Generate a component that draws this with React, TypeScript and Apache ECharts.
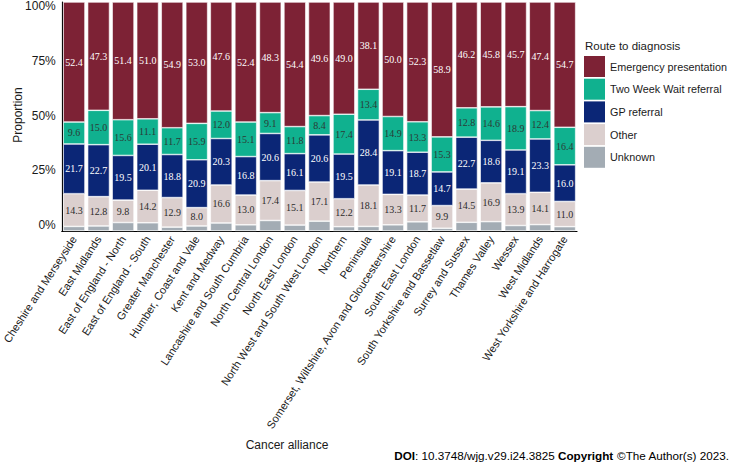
import React, { useEffect, useRef } from "react";
import * as echarts from "echarts";

const categories = [
  "Cheshire and Merseyside",
  "East Midlands",
  "East of England - North",
  "East of England - South",
  "Greater Manchester",
  "Humber, Coast and Vale",
  "Kent and Medway",
  "Lancashire and South Cumbria",
  "North Central London",
  "North East London",
  "North West and South West London",
  "Northern",
  "Peninsula",
  "Somerset, Wiltshire, Avon and Gloucestershire",
  "South East London",
  "South Yorkshire and Bassetlaw",
  "Surrey and Sussex",
  "Thames Valley",
  "Wessex",
  "West Midlands",
  "West Yorkshire and Harrogate",
];

const emergency = [52.4, 47.3, 51.4, 51.0, 54.9, 53.0, 47.6, 52.4, 48.3, 54.4, 49.6, 49.0, 38.1, 50.0, 52.3, 58.9, 46.2, 45.8, 45.7, 47.4, 54.7];
const twoWeekWait = [9.6, 15.0, 15.6, 11.1, 11.7, 15.9, 12.0, 15.1, 9.1, 11.8, 8.4, 17.4, 13.4, 14.9, 13.3, 15.3, 12.8, 14.6, 18.9, 12.4, 16.4];
const gpReferral = [21.7, 22.7, 19.5, 20.1, 18.8, 20.9, 20.3, 16.8, 20.6, 16.1, 20.6, 19.5, 28.4, 19.1, 18.7, 14.7, 22.7, 18.6, 19.1, 23.3, 16.0];
const other = [14.3, 12.8, 9.8, 14.2, 12.9, 8.0, 16.6, 13.0, 17.4, 15.1, 17.1, 12.2, 18.1, 13.3, 11.7, 9.9, 14.5, 16.9, 13.9, 14.1, 11.0];
const unknown = [2.0, 2.2, 3.7, 3.6, 1.7, 2.2, 3.5, 2.7, 4.6, 2.6, 4.3, 1.9, 2.0, 2.7, 4.0, 1.2, 3.8, 4.1, 2.4, 2.8, 1.9];

const yTicks = [0, 25, 50, 75, 100];

const SANS = "Liberation Sans";
const SERIF = "Liberation Serif";

export default function App() {
  const ref = useRef<HTMLDivElement>(null);
  useEffect(() => {
    document.body.style.margin = "0";
    const chart = echarts.init(ref.current!, null, { renderer: "svg" });
    const mk = (name: string, data: number[], color: string, labelColor: string | null) => ({
      name,
      type: "bar",
      stack: "total",
      data,
      barCategoryGap: "11%",
      itemStyle: { color, borderColor: "#ffffff", borderWidth: 0.6 },
      label: labelColor
        ? {
            show: true,
            position: "inside",
            color: labelColor,
            fontFamily: SERIF,
            fontSize: 10,
            formatter: (p: any) => Number(p.value).toFixed(1),
          }
        : { show: false },
      emphasis: { disabled: true },
    });
    chart.setOption({
      animation: false,
      grid: { left: 56, right: 154, top: 1, bottom: 235, containLabel: false },
      xAxis: {
        type: "category",
        data: categories,
        axisLine: { lineStyle: { color: "#000", width: 1.2 } },
        axisTick: { alignWithLabel: true, length: 4, lineStyle: { color: "#333" } },
        axisLabel: {
          rotate: 57,
          interval: 0,
          margin: 6,
          fontFamily: SANS,
          fontSize: 11,
          color: "#1a1a1a",
        },
      },
      yAxis: [
        {
          type: "value",
          min: 0,
          max: 100,
          interval: 25,
          axisLine: { show: true, lineStyle: { color: "#000", width: 1.2 } },
          axisTick: { show: false },
          axisLabel: { show: false },
          splitLine: { show: false },
        },
        {
          type: "value",
          position: "left",
          min: -2.727,
          max: 101.82,
          axisLine: { show: false },
          axisTick: { show: false },
          splitLine: { show: false },
          axisLabel: {
            customValues: yTicks,
            formatter: (v: number) => v + "%",
            fontFamily: SANS,
            fontSize: 12,
            color: "#1a1a1a",
            margin: 6,
          },
        },
      ],
      legend: {
        orient: "vertical",
        left: 584,
        top: 56,
        padding: 0,
        itemWidth: 21,
        itemHeight: 21,
        itemGap: 1.7,
        icon: "rect",
        selectedMode: false,
        data: ["Emergency presentation", "Two Week Wait referral", "GP referral", "Other", "Unknown"],
        textStyle: { fontFamily: SANS, fontSize: 10.8, color: "#1a1a1a" },
        itemStyle: { borderWidth: 0 },
      },
      graphic: [
        {
          type: "text",
          left: 585,
          top: 40,
          style: { text: "Route to diagnosis", fontFamily: SANS, fontSize: 11.5, fill: "#1a1a1a" },
        },
        {
          type: "text",
          x: 287,
          y: 445,
          style: { text: "Cancer alliance", fontFamily: SANS, fontSize: 12, fill: "#1a1a1a", align: "center", verticalAlign: "middle" },
        },
        {
          type: "text",
          x: 18,
          y: 115,
          rotation: Math.PI / 2,
          style: { text: "Proportion", fontFamily: SANS, fontSize: 12, fill: "#1a1a1a", align: "center", verticalAlign: "middle" },
        },
        {
          type: "text",
          x: 729,
          y: 455,
          style: {
            text: "{b|DOI}: 10.3748/wjg.v29.i24.3825 {b|Copyright} ©The Author(s) 2023.",
            fontFamily: SANS,
            fontSize: 11.7,
            fill: "#000",
            align: "right",
            verticalAlign: "middle",
            rich: { b: { fontWeight: "bold", fontFamily: SANS, fontSize: 11.7, fill: "#000" } },
          },
        },
      ],
      series: [
        mk("Unknown", unknown, "#A3ACB4", null),
        mk("Other", other, "#DBCFCE", "#2b2b2b"),
        mk("GP referral", gpReferral, "#0B2676", "#ffffff"),
        mk("Two Week Wait referral", twoWeekWait, "#10B18F", "#2b3a35"),
        mk("Emergency presentation", emergency, "#7D2235", "#ffffff"),
      ],
    });
    return () => chart.dispose();
  }, []);
  return <div ref={ref} style={{ width: 731, height: 466 }} />;
}
